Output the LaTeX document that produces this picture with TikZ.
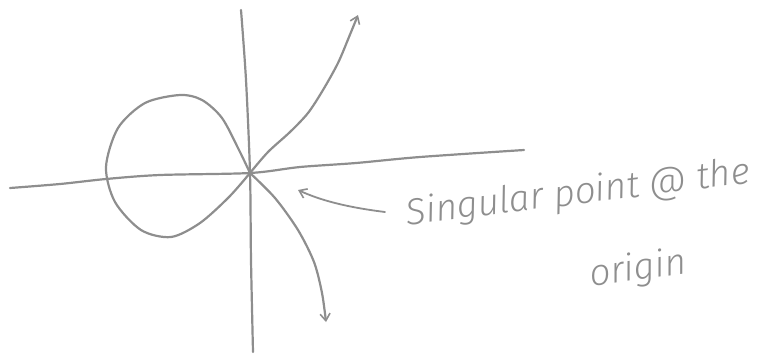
\documentclass[tikz,border=0pt]{standalone}
\usepackage{fontspec}
\setmainfont{Fira Sans Light}
\usetikzlibrary{arrows.meta}
\definecolor{pencil}{HTML}{8E8E8E}
\tikzset{
  stroke/.style={draw=pencil, line width=2.2pt, line cap=round, line join=round},
  tip/.style={-{Straight Barb[length=7pt,width=10pt,line width=1.6pt]}},
  hand/.style={text=pencil, font=\fontsize{37}{42}\selectfont\itshape, inner sep=0pt}
}
\begin{document}
\begin{tikzpicture}[x=1pt,y=-1pt]
\useasboundingbox (0,0) rectangle (765,360);
\coordinate (O) at (250,173);
\coordinate (up) at (358,15);
\coordinate (down) at (326,322);
% axes
\draw[stroke] plot[smooth] coordinates {(241,10) (246,80) (O) (251,260) (253,352)};
\draw[stroke] plot[smooth] coordinates {(10,188) (60,184) (106,179) (160,175) (O) (300,167) (356,163) (420,157) (524,150)};
% loop
\draw[stroke] plot[smooth] coordinates {(O) (239,150) (222,118) (202,100) (180,95) (145,103) (118,128) (106,167) (115,202) (141,230) (171,237) (200,223) (229,197) (O)};
% branches
\draw[stroke,tip] plot[smooth] coordinates {(O) (268,152) (290,132) (308,113) (323,90) (338,63) (349,37) (up)};
\draw[stroke,tip] plot[smooth] coordinates {(O) (275,198) (298,230) (314,262) (322,293) (down)};
% labels
\node[hand, rotate=7] (l1) at (578,194) {Singular point @ the};
\node[hand, rotate=8] (l2) at (638,270) {origin};
\coordinate (tx) at (385,212);
\coordinate (pt) at (298,190);
\draw[stroke,line width=1.8pt,tip] (tx) .. controls (345,207) and (320,200) .. (pt);
\end{tikzpicture}
\end{document}
